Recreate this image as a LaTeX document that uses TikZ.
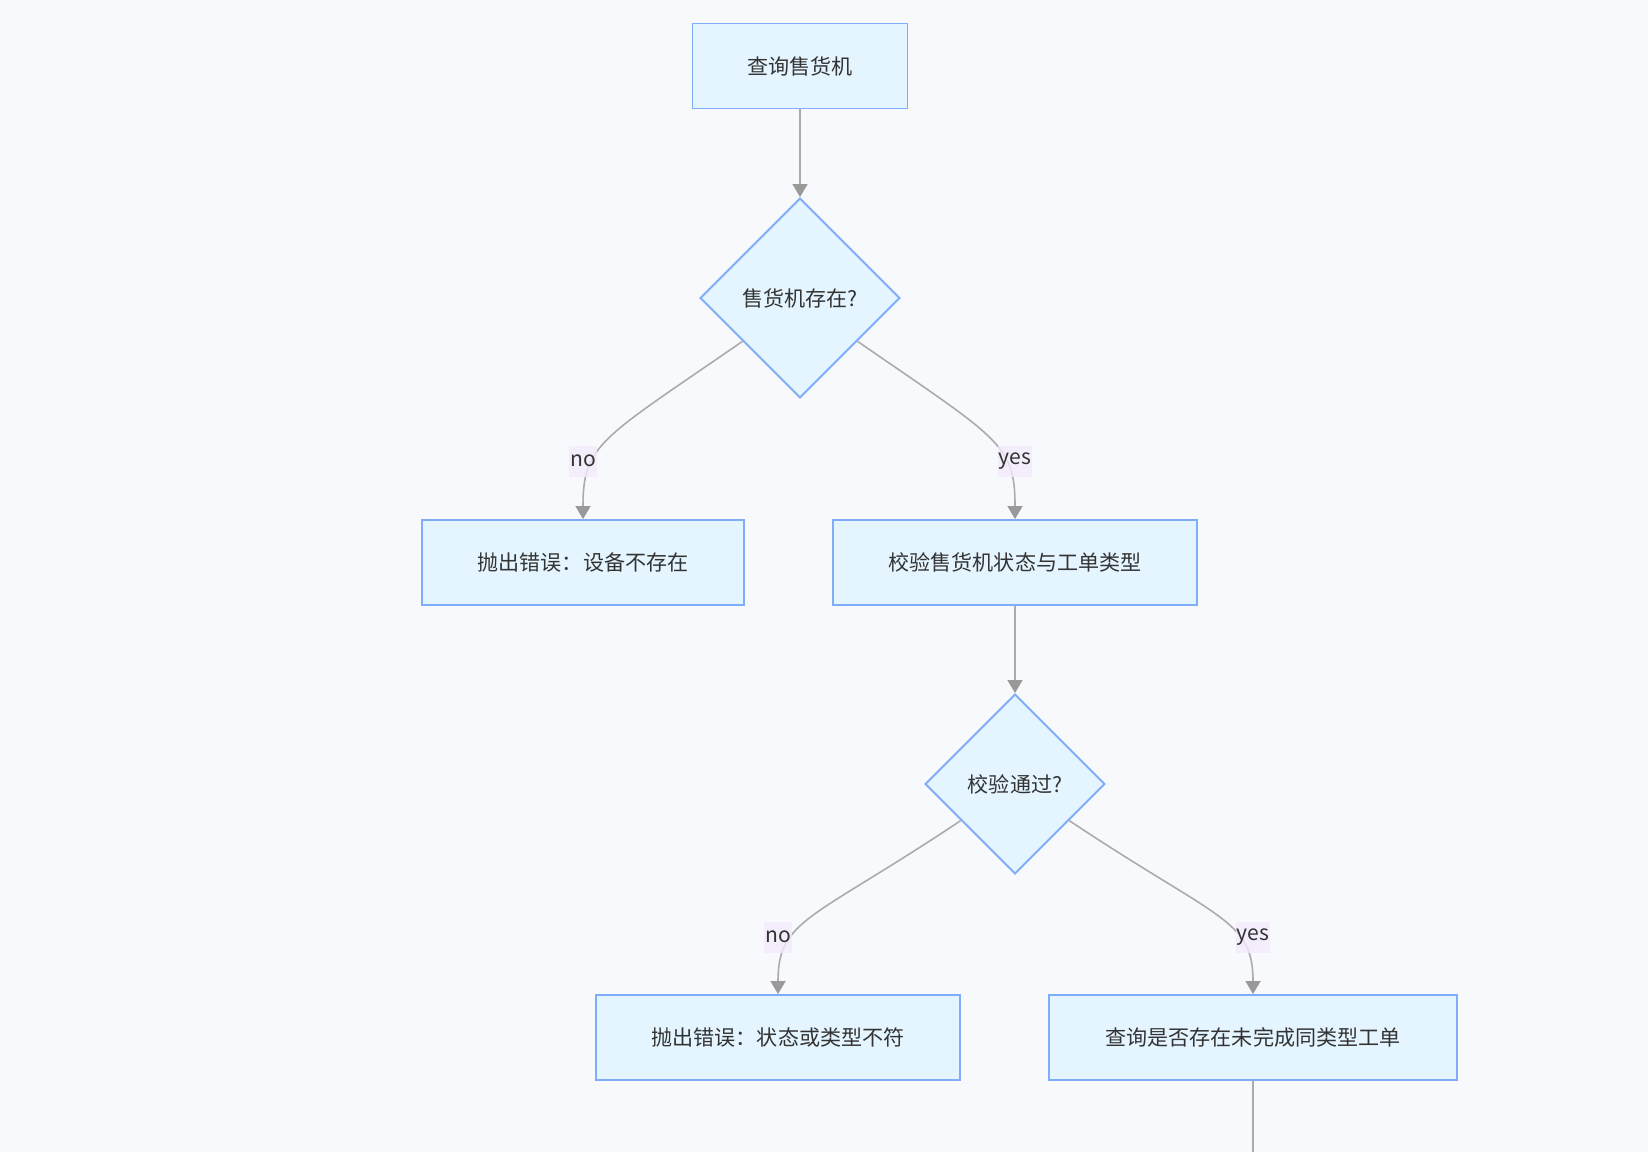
\documentclass[tikz,border=0pt]{standalone}
\usepackage{fontspec}
\setmainfont{Noto Sans CJK SC}
\usetikzlibrary{shapes.geometric, arrows.meta}

\definecolor{bgcol}{HTML}{F8F9FC}
\definecolor{boxfill}{HTML}{E4F5FF}
\definecolor{boxline}{HTML}{80ADF9}
\definecolor{edgecol}{HTML}{ABABAB}
\definecolor{tipcol}{HTML}{999999}
\definecolor{lblfill}{HTML}{F4EAFD}
\definecolor{txtcol}{HTML}{333333}

\begin{document}
\begin{tikzpicture}[x=0.02cm, y=0.02cm,
    box/.style={draw=boxline, fill=boxfill, line width=1.1pt, minimum height=1.7cm, text=txtcol, font=\fontsize{12}{14}\selectfont},
    check/.style={diamond, aspect=1, draw=boxline, fill=boxfill, line width=1.1pt, inner sep=0pt, text=txtcol, font=\fontsize{12}{14}\selectfont},
    flow/.style={draw=edgecol, line width=0.9pt, -{Triangle[length=0.26cm, width=0.3cm, color=tipcol]}},
    answer/.style={fill=lblfill, fill opacity=0.8, text opacity=1, text=txtcol, inner xsep=0.5pt, minimum height=0.62cm, font=\fontsize{12}{14}\selectfont}]
    % Background and frame
    \fill[bgcol] (0,0) rectangle (1648,-1152);
    \useasboundingbox (0,0) rectangle (1648,-1152);

    % Nodes of the flow
    \node[box, minimum width=4.3cm] (query) at (800,-66) {查询售货机};
    \node[check, minimum width=4cm, minimum height=4cm] (exists) at (800,-298) {售货机存在?};
    \node[box, minimum width=6.43cm] (nodev) at (583,-562.5) {抛出错误：设备不存在};
    \node[box, minimum width=7.27cm] (verify) at (1015,-562.5) {校验售货机状态与工单类型};
    \node[check, minimum width=3.6cm, minimum height=3.6cm] (passed) at (1015,-784) {校验通过?};
    \node[box, minimum width=7.28cm] (badstate) at (778,-1037.5) {抛出错误：状态或类型不符};
    \node[box, minimum width=8.16cm] (pending) at (1253,-1037.5) {查询是否存在未完成同类型工单};
    \coordinate (tail) at (1253,-1152);

    % Connectors
    \draw[flow] (query.south) -- (exists.north);
    \draw[flow] (exists.-143) .. controls +(-142,-98) and +(0,75) .. (nodev.north);
    \draw[flow] (exists.-37) .. controls +(142,-98) and +(0,75) .. (verify.north);
    \draw[flow] (verify.south) -- (passed.north);
    \draw[flow] (passed.-146) .. controls +(-150,-100) and +(0,75) .. (badstate.north);
    \draw[flow] (passed.-34) .. controls +(150,-100) and +(0,75) .. (pending.north);
    \draw[draw=edgecol, line width=0.9pt] (pending.south) -- (tail);

    % Branch labels
    \node[answer] (no1) at (583,-461) {no};
    \node[answer] (yes1) at (1015,-461) {yes};
    \node[answer] (no2) at (778,-937) {no};
    \node[answer] (yes2) at (1253,-937) {yes};
\end{tikzpicture}
\end{document}
